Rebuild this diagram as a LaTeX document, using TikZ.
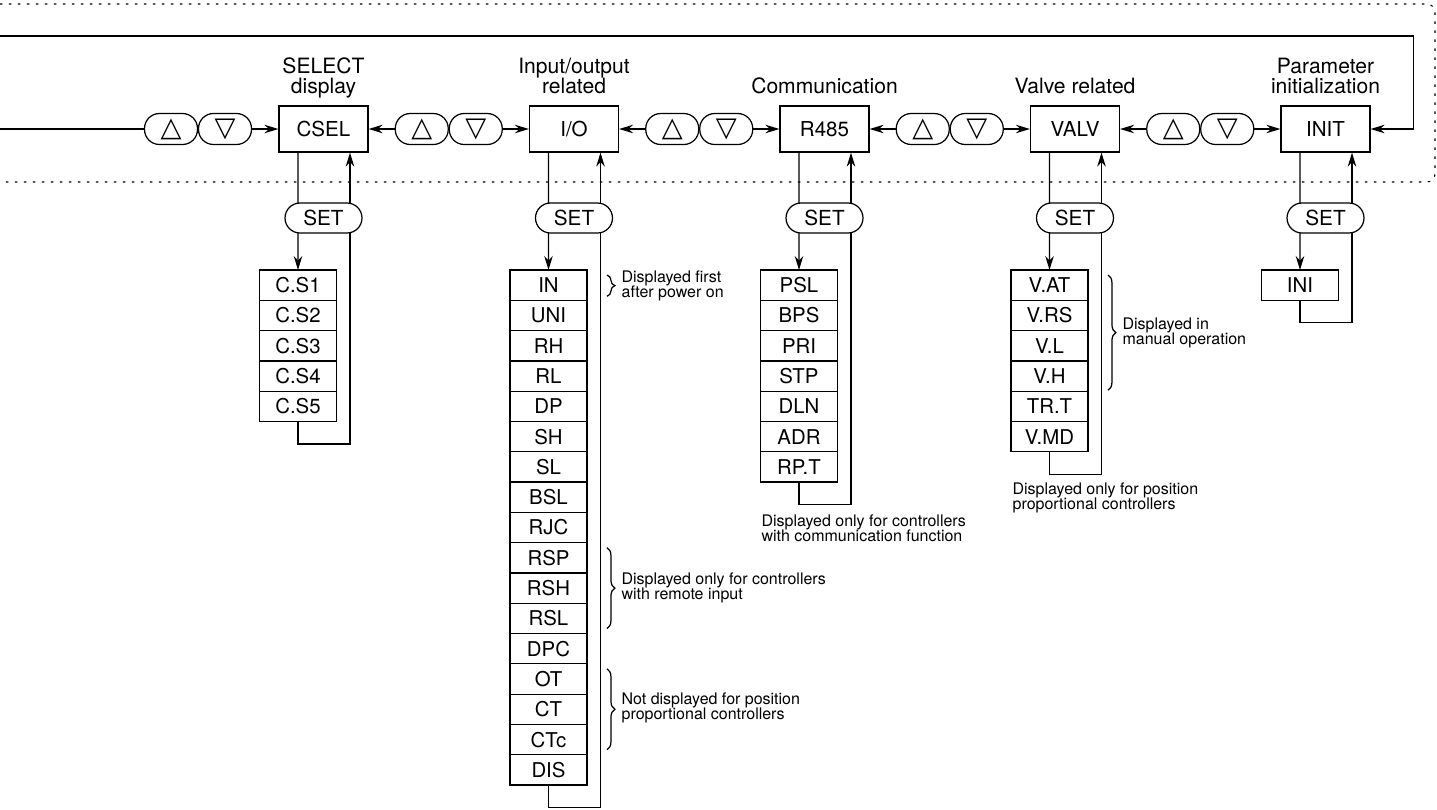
\documentclass[tikz,border=0pt]{standalone}
\usepackage{fontspec}
\setmainfont{TeX Gyre Heros}
\newfontfamily\symfont{DejaVu Sans}
\usetikzlibrary{arrows.meta,positioning,decorations.pathreplacing}

\tikzset{
  keybox/.style={draw, fill=white, minimum width=1.78cm, minimum height=0.92cm, inner sep=0pt, font=\fontsize{11.7}{13}\selectfont},
  keytitle/.style={anchor=south, inner sep=0pt, align=center, font=\fontsize{12}{11.4}\selectfont},
  btn/.style={draw, fill=white, rounded corners=0.3cm, minimum width=1.06cm, minimum height=0.62cm, inner sep=0pt, font=\symfont\fontsize{15.5}{15.5}\selectfont},
  setbtn/.style={draw, fill=white, rounded corners=0.3cm, minimum width=1.54cm, minimum height=0.6cm, inner sep=0pt, font=\fontsize{11.8}{13}\selectfont},
  row/.style={draw, fill=white, minimum width=1.54cm, minimum height=0.606cm, inner sep=0pt, outer sep=0pt, font=\fontsize{11.6}{13}\selectfont},
  note/.style={inner sep=0pt, align=left, font=\fontsize{9.1}{8.9}\selectfont},
  arr/.style={-{Stealth[length=0.28cm,width=0.17cm]}},
  brc/.style={decorate, decoration={brace, amplitude=4.5pt}},
  frame/.style={line width=0.6pt, dash pattern=on 0.05cm off 0.13cm}
}

\begin{document}
\begin{tikzpicture}[x=0.02cm, y=-0.02cm, line width=0.7pt]
\useasboundingbox (0,0) rectangle (1437,809);
% dotted frame round the mode row
\draw[frame, rounded corners=0.16cm] (0,4) -| (1435,182) -- (0,182);
\coordinate (loopin) at (0,36);
\coordinate (linein) at (0,129);

% setting groups
\node[keybox] (csel) at (323.5,129) {CSEL};
\node[keybox] (io) at (574,129) {I/O};
\node[keybox] (r485) at (824.5,129) {R485};
\node[keybox] (valv) at (1075,129) {VALV};
\node[keybox] (init) at (1325.5,129) {INIT};

\node[keytitle] at (323.5,100.5) {SELECT\\display\strut};
\node[keytitle] at (574,100.5) {Input/output\\related\strut};
\node[keytitle] at (824.5,100.5) {Communication\strut};
\node[keytitle] at (1075,100.5) {Valve related\strut};
\node[keytitle] at (1325.5,100.5) {Parameter\\initialization\strut};

% up/down keys
\node[btn] (up0) at (171,129) {△};
\node[btn] (dn0) at (225,129) {▽};
\node[btn] (up1) at (421.75,129) {△};
\node[btn] (dn1) at (475.75,129) {▽};
\node[btn] (up2) at (672.25,129) {△};
\node[btn] (dn2) at (726.25,129) {▽};
\node[btn] (up3) at (922.75,129) {△};
\node[btn] (dn3) at (976.75,129) {▽};
\node[btn] (up4) at (1173.25,129) {△};
\node[btn] (dn4) at (1227.25,129) {▽};

% CSEL list
\node[row] (cs1) at (298,285.15) {C.S1};
\node[row, below=0pt of cs1] (cs2) {C.S2};
\node[row, below=0pt of cs2] (cs3) {C.S3};
\node[row, below=0pt of cs3] (cs4) {C.S4};
\node[row, below=0pt of cs4] (cs5) {C.S5};

% I/O list
\node[row] (io1) at (548.5,285.15) {IN};
\node[row, below=0pt of io1] (io2) {UNI};
\node[row, below=0pt of io2] (io3) {RH};
\node[row, below=0pt of io3] (io4) {RL};
\node[row, below=0pt of io4] (io5) {DP};
\node[row, below=0pt of io5] (io6) {SH};
\node[row, below=0pt of io6] (io7) {SL};
\node[row, below=0pt of io7] (io8) {BSL};
\node[row, below=0pt of io8] (io9) {RJC};
\node[row, below=0pt of io9] (io10) {RSP};
\node[row, below=0pt of io10] (io11) {RSH};
\node[row, below=0pt of io11] (io12) {RSL};
\node[row, below=0pt of io12] (io13) {DPC};
\node[row, below=0pt of io13] (io14) {OT};
\node[row, below=0pt of io14] (io15) {CT};
\node[row, below=0pt of io15] (io16) {CTc};
\node[row, below=0pt of io16] (io17) {DIS};

% R485 list
\node[row] (rs1) at (799,285.15) {PSL};
\node[row, below=0pt of rs1] (rs2) {BPS};
\node[row, below=0pt of rs2] (rs3) {PRI};
\node[row, below=0pt of rs3] (rs4) {STP};
\node[row, below=0pt of rs4] (rs5) {DLN};
\node[row, below=0pt of rs5] (rs6) {ADR};
\node[row, below=0pt of rs6] (rs7) {RP.T};

% VALV list
\node[row] (va1) at (1049.5,285.15) {V.AT};
\node[row, below=0pt of va1] (va2) {V.RS};
\node[row, below=0pt of va2] (va3) {V.L};
\node[row, below=0pt of va3] (va4) {V.H};
\node[row, below=0pt of va4] (va5) {TR.T};
\node[row, below=0pt of va5] (va6) {V.MD};

% INIT list
\node[row] (in1) at (1300,285.15) {INI};

% key connectors
\draw (linein) -- (up0.west);
\draw[arr] (dn0.east) -- (csel.west);
\draw[arr] (up1.west) -- (csel.east);
\draw[arr] (dn1.east) -- (io.west);
\draw[arr] (up2.west) -- (io.east);
\draw[arr] (dn2.east) -- (r485.west);
\draw[arr] (up3.west) -- (r485.east);
\draw[arr] (dn3.east) -- (valv.west);
\draw[arr] (up4.west) -- (valv.east);
\draw[arr] (dn4.east) -- (init.west);
\draw[arr] (loopin) -| ([xshift=0.86cm]init.east) -- (init.east);

% SET loops
\draw[arr] ([xshift=-0.51cm]csel.south) -- (cs1.north);
\draw[arr] (cs5.south) -- ++(0,22.5) -| ([xshift=0.53cm]csel.south);
\draw[arr] ([xshift=-0.51cm]io.south) -- (io1.north);
\draw[arr] (io17.south) -- ++(0,22.5) -| ([xshift=0.53cm]io.south);
\draw[arr] ([xshift=-0.51cm]r485.south) -- (rs1.north);
\draw[arr] (rs7.south) -- ++(0,22.5) -| ([xshift=0.53cm]r485.south);
\draw[arr] ([xshift=-0.51cm]valv.south) -- (va1.north);
\draw[arr] (va6.south) -- ++(0,22.5) -| ([xshift=0.53cm]valv.south);
\draw[arr] ([xshift=-0.51cm]init.south) -- (in1.north);
\draw[arr] (in1.south) -- ++(0,22.5) -| ([xshift=0.53cm]init.south);

\node[setbtn] (set0) at (323.5,218) {SET};
\node[setbtn] (set1) at (574,218) {SET};
\node[setbtn] (set2) at (824.5,218) {SET};
\node[setbtn] (set3) at (1075,218) {SET};
\node[setbtn] (set4) at (1325.5,218) {SET};

% notes
\draw[brc] ([shift={(20,5)}]io1.north east) -- ([shift={(20,-4)}]io1.south east);
\node[note, anchor=west] at (621,286) {Displayed first\\after power on};
\draw[brc] ([shift={(20,5)}]io10.north east) -- ([shift={(20,-5)}]io12.south east);
\node[note, anchor=west] at (621,588) {Displayed only for controllers\\with remote input};
\draw[brc] ([shift={(20,5)}]io14.north east) -- ([shift={(20,-5)}]io16.south east);
\node[note, anchor=west] at (621,708) {Not displayed for position\\proportional controllers};
\node[note, anchor=north west] at (761,514) {Displayed only for controllers\\with communication function};
\draw[brc] ([shift={(20,5)}]va1.north east) -- ([shift={(20,-1)}]va4.south east);
\node[note, anchor=west] at (1122,333) {Displayed in\\manual operation};
\node[note, anchor=north west] at (1012,482) {Displayed only for position\\proportional controllers};
\end{tikzpicture}
\end{document}
